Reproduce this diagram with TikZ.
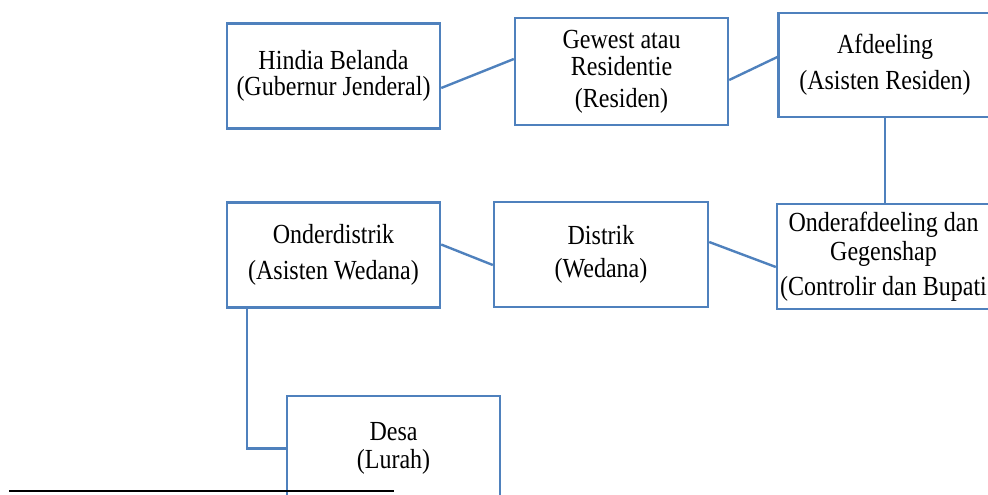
\documentclass[tikz,border=0pt]{standalone}
\usepackage{fontspec}
\setmainfont[FakeStretch=0.87]{Liberation Serif}
\usepackage{tikz}
\definecolor{boxblue}{RGB}{79, 129, 189}

\begin{document}
\begin{tikzpicture}[x=0.5pt, y=-0.5pt,
    box/.style={draw=boxblue, line width=1.2pt, fill=white, align=center,
        minimum width=106.5pt, minimum height=52.5pt, inner sep=0pt,
        font=\fontsize{13.8}{12}\selectfont},
    link/.style={draw=boxblue, line width=1.2pt}]
        \clip (0, 0) rectangle (988, 494);

        % 第一行
        \node[box] (hindia) at (333.5, 76) {Hindia Belanda\\[1pt](Gubernur Jenderal)};
        \node[box, minimum height=53.5pt] (gewest) at (621.5, 71.5) {Gewest atau\\[1.5pt]Residentie\\[4pt](Residen)};
        \node[box, minimum height=52pt] (afdeeling) at (885, 65) {Afdeeling\\[4.5pt](Asisten Residen)};

        % 第二行
        \node[box] (onderdistrik) at (333.5, 255) {Onderdistrik\\[6pt](Asisten Wedana)};
        \node[box, minimum width=107pt] (distrik) at (601, 254.5) {Distrik\\[4.5pt](Wedana)};
        \node[box] (onderafd) at (883.5, 256.5) {Onderafdeeling dan\\[1pt]Gegenshap\\[4pt](Controlir dan Bupati};

        % 第三行
        \node[box] (desa) at (393.5, 448.5) {Desa\\[2pt](Lurah)};

        % 连线
        \draw[link] ([yshift=-6pt]hindia.east) -- ([yshift=6.25pt]gewest.west);
        \draw[link] ([yshift=-4.25pt]gewest.east) -- ([yshift=4pt]afdeeling.west);
        \draw[link] (afdeeling.south) -- (afdeeling.south |- onderafd.north);
        \draw[link] ([yshift=-5.25pt]onderafd.west) -- ([yshift=6.25pt]distrik.east);
        \draw[link] ([yshift=-5.25pt]distrik.west) -- ([yshift=5.25pt]onderdistrik.east);
        \draw[link] ([xshift=10.5pt]onderdistrik.south west) |- (desa.west);

        % 脚注线
        \draw[line width=1pt, black] (9, 491) -- (394, 491);

    \end{tikzpicture}
\end{document}
